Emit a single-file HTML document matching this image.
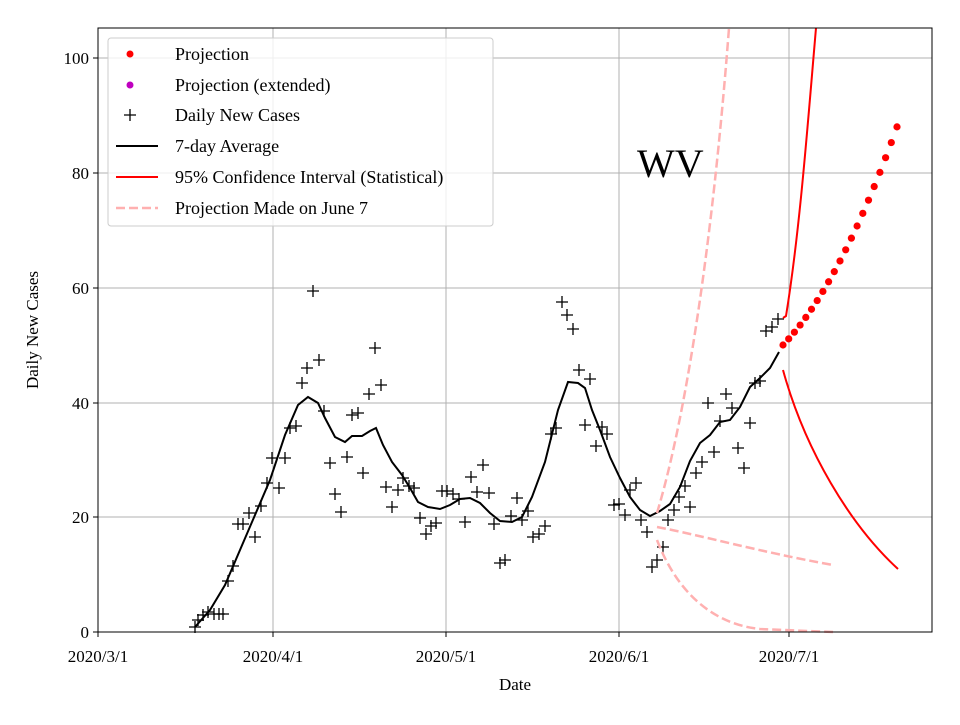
<!DOCTYPE html>
<html><head><meta charset="utf-8"><style>
body{margin:0;background:#fff;width:960px;height:720px;overflow:hidden}
text{font-family:"Liberation Serif",serif;fill:#000}
</style></head><body>
<svg id="s" width="960" height="720" xmlns="http://www.w3.org/2000/svg">
<rect width="960" height="720" fill="#fff"/>
<g stroke="#b0b0b0" stroke-width="1">
<line x1="98" y1="58" x2="932" y2="58"/><line x1="98" y1="173" x2="932" y2="173"/><line x1="98" y1="288" x2="932" y2="288"/><line x1="98" y1="403" x2="932" y2="403"/><line x1="98" y1="517" x2="932" y2="517"/>
<line x1="273" y1="28" x2="273" y2="632"/><line x1="446" y1="28" x2="446" y2="632"/><line x1="619" y1="28" x2="619" y2="632"/><line x1="789" y1="28" x2="789" y2="632"/>
</g>
<g id="pts" stroke="#000" stroke-width="1.3"></g>
<polyline fill="none" stroke="#000" stroke-width="2" points="195,627 210,610 225,585 240,550 255,515 270,480 285,435 298,405 308,397 318,403 325,418 335,437 345,442 352,436 362,436 370,431 376,428 383,445 392,462 402,475 410,488 418,502 428,507 440,509 450,505 460,499 470,498 480,503 490,513 500,521 512,522 522,517 532,497 545,462 558,410 568,382 578,383 585,388 592,410 600,430 610,457 620,478 630,497 640,510 650,516 660,511 670,504 680,487 690,461 700,443 710,435 720,422 730,420 740,407 750,387 760,378 770,368 779,352"/>
<g fill="none" stroke="#ffb0b0" stroke-width="2.5" stroke-dasharray="9,4">
<path d="M657,513 C685,420 712,250 729,28"/>
<path d="M657,527 C700,535 760,552 833,565"/>
<path d="M657,540 C680,600 720,625 760,629 L833,632"/>
</g>
<g fill="none" stroke="#f00" stroke-width="2">
<path d="M783,318 L786,316 C800,230 808,120 816,28"/>
<path d="M783,370 C805,450 850,525 898,569"/>
</g>
<g id="dots" fill="#f00"></g>
<rect x="98" y="28" width="834" height="604" fill="none" stroke="#000" stroke-width="1"/>
<g stroke="#000"><line x1="98" y1="632" x2="98" y2="637"/><line x1="273" y1="632" x2="273" y2="637"/><line x1="446" y1="632" x2="446" y2="637"/><line x1="619" y1="632" x2="619" y2="637"/><line x1="789" y1="632" x2="789" y2="637"/>
<line x1="93" y1="632" x2="98" y2="632"/><line x1="93" y1="517" x2="98" y2="517"/><line x1="93" y1="403" x2="98" y2="403"/><line x1="93" y1="288" x2="98" y2="288"/><line x1="93" y1="173" x2="98" y2="173"/><line x1="93" y1="58" x2="98" y2="58"/></g>
<g font-size="17" text-anchor="end">
<text x="89" y="638">0</text><text x="89" y="523">20</text><text x="89" y="409">40</text><text x="89" y="294">60</text><text x="89" y="179">80</text><text x="89" y="64">100</text></g>
<g font-size="17" text-anchor="middle">
<text x="98" y="662">2020/3/1</text><text x="273" y="662">2020/4/1</text><text x="446" y="662">2020/5/1</text><text x="619" y="662">2020/6/1</text><text x="789" y="662">2020/7/1</text>
<text x="515" y="690">Date</text></g>
<text font-size="17" text-anchor="middle" transform="translate(38,330) rotate(-90)">Daily New Cases</text>
<text x="637" y="177" font-size="40">WV</text>
<rect x="108" y="38" width="385" height="188" rx="3" fill="#fff" fill-opacity="0.8" stroke="#ccc"/>
<circle cx="130" cy="54" r="3.5" fill="#f00"/>
<circle cx="130" cy="85" r="3.5" fill="#bf00bf"/>
<path d="M124,115 h12 M130,109 v12" stroke="#000" stroke-width="1.3"/>
<line x1="116" y1="146" x2="158" y2="146" stroke="#000" stroke-width="2"/>
<line x1="116" y1="177" x2="158" y2="177" stroke="#f00" stroke-width="2"/>
<line x1="116" y1="208" x2="158" y2="208" stroke="#ffb0b0" stroke-width="2.5" stroke-dasharray="9,4"/>
<g font-size="18"><text x="175" y="60">Projection</text><text x="175" y="91">Projection (extended)</text><text x="175" y="121">Daily New Cases</text><text x="175" y="152">7-day Average</text><text x="175" y="183">95% Confidence Interval (Statistical)</text><text x="175" y="214">Projection Made on June 7</text></g>
</svg>
<script>
var P=[[195,627],[198,620],[203,615],[208,612],[214,614],[219,614],[223,614],[228,581],[233,566],[238,524],[243,524],[249,513],[255,537],[261,506],[267,483],[272,458],[279,488],[285,458],[290,428],[296,426],[302,383],[307,368],[313,291],[319,360],[324,411],[330,463],[335,494],[341,512],[347,457],[352,415],[358,413],[363,473],[369,394],[375,348],[381,385],[386,487],[392,507],[398,490],[403,478],[409,486],[414,488],[420,518],[426,534],[431,526],[436,523],[442,491],[447,491],[453,494],[459,499],[465,522],[471,477],[477,492],[483,465],[489,493],[494,524],[500,563],[505,560],[511,516],[517,498],[522,520],[528,511],[533,537],[539,534],[545,526],[551,434],[556,428],[562,302],[567,315],[573,329],[579,370],[585,425],[590,379],[596,446],[602,427],[607,434],[614,505],[619,504],[625,515],[630,490],[636,483],[641,520],[647,532],[652,567],[657,560],[663,547],[668,520],[674,510],[679,497],[685,486],[690,507],[696,473],[702,462],[708,403],[714,452],[720,421],[726,394],[732,408],[738,448],[744,468],[750,423],[755,383],[760,381],[766,331],[772,327],[778,319]];
var g=document.getElementById('pts'),h='';
P.forEach(function(p){h+='<path d="M'+(p[0]-6)+','+p[1]+'h12M'+p[0]+','+(p[1]-6)+'v12"/>';});
g.innerHTML=h;
var d='';for(var i=0;i<=20;i++){var v=50+1.028*i+0.0436*i*i;var x=783+i*5.7;var y=632-v*5.74;d+='<circle cx="'+x+'" cy="'+y+'" r="3.6"/>';}
document.getElementById('dots').innerHTML=d;
</script>
</body></html>
